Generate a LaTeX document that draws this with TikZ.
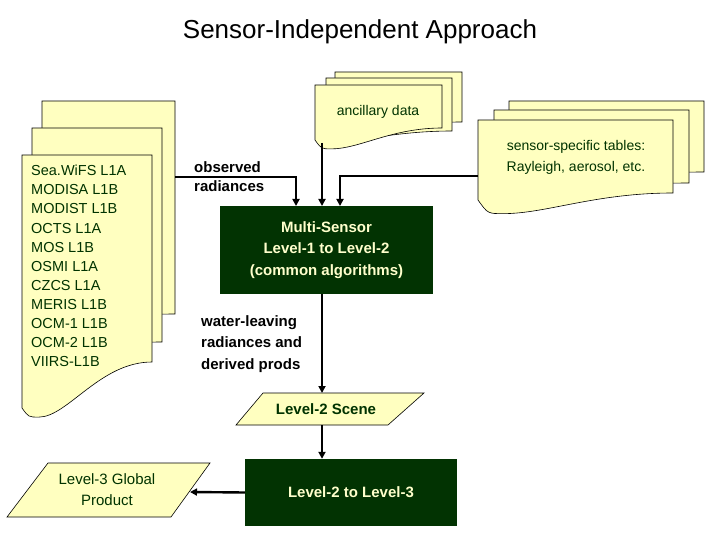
\documentclass[tikz,border=0pt]{standalone}
\usepackage{fontspec}
\setmainfont{Liberation Sans}
\usetikzlibrary{arrows.meta}
\definecolor{paper}{HTML}{FFFFC0}
\definecolor{dk}{HTML}{003300}
\definecolor{boxfill}{HTML}{023302}
\definecolor{boxtxt}{HTML}{FFFFCC}
\newcommand{\docsheet}[6]{% x1 y1 x2 y2(unused) yl yr
  \pgfmathsetmacro{\w}{#3-#1}
  \filldraw[sheet] (#1,#2) -- (#3,#2) -- (#3,#6)
    .. controls ({#1+0.6*\w},#6) and ({#1+0.35*\w},{#5+0.07*\w}) .. ({#1+0.13*\w},{#5+0.07*\w})
    .. controls ({#1+0.05*\w},{#5+0.07*\w}) .. (#1,#5) -- cycle;}
\begin{document}
\begin{tikzpicture}[x=1pt,y=-1pt,
  sheet/.style={fill=paper,draw=black,line width=0.6pt},
  lbl/.style={font=\fontsize{15}{19}\selectfont\bfseries,text=black,align=left,inner sep=0pt},
  dtxt/.style={font=\fontsize{15}{19}\selectfont\bfseries,text=dk,align=center,inner sep=0pt},
  proc/.style={fill=boxfill,draw=none,text=boxtxt,font=\fontsize{15}{21.5}\selectfont\bfseries,align=center},
  io/.style={sheet},
  conn/.style={line width=2.4pt,-{Triangle[width=7pt,length=7pt]}}]
\useasboundingbox (0,0) rectangle (720,540);
\node (title) at (360,32) {\fontsize{26}{30}\selectfont Sensor-Independent Approach};
% left document stack
\docsheet{42}{101}{175}{0}{314}{314}
\docsheet{32}{128}{162}{0}{342}{342}
\docsheet{22}{155}{152}{0}{408}{362}
\node[anchor=north west,align=left,inner sep=0pt,text=dk,font=\fontsize{14.5}{19.1}\selectfont] (list) at (31,165)
 {Sea.WiFS L1A\\MODISA L1B\\MODIST L1B\\OCTS L1A\\MOS L1B\\OSMI L1A\\CZCS L1A\\MERIS L1B\\OCM-1 L1B\\OCM-2 L1B\\VIIRS-L1B};
\coordinate (lsrc) at (175,177);
% ancillary stack
\docsheet{335}{72}{462}{0}{122}{122}
\docsheet{326}{78}{452}{0}{131}{131}
\docsheet{315}{85}{442}{0}{140}{128}
\node[dtxt,font=\fontsize{14}{19}\selectfont] (anc) at (378,112) {ancillary data};
\coordinate (ancb) at (322,143);
% sensor tables stack
\docsheet{509}{101}{704}{0}{172}{172}
\docsheet{494}{110}{689}{0}{183}{183}
\docsheet{478}{120}{673}{0}{200}{193}
\node[dtxt,font=\fontsize{14}{21}\selectfont] (tab) at (576,157) {sensor-specific tables:\\Rayleigh, aerosol, etc.};
\coordinate (tabl) at (478,176);
% process boxes
\node[proc,minimum width=213pt,minimum height=88pt] (ms) at (326.5,250) {Multi-Sensor\\Level-1 to Level-2\\(common algorithms)};
\node[proc,minimum width=212pt,minimum height=67pt] (l23) at (351,492.5) {Level-2 to Level-3};
% io shapes
\filldraw[io] (263,393) -- (424,393) -- (388,425) -- (236,425) -- cycle;
\node[dtxt] (l2s) at (326,409) {Level-2 Scene};
\coordinate (l2st) at (322,393);
\coordinate (l2sb) at (322,425);
\filldraw[io] (48,463) -- (210,463) -- (171,517) -- (7,517) -- cycle;
\node[dtxt,font=\fontsize{15}{21}\selectfont] (l3) at (107,490) {Level-3 Global\\Product};
\coordinate (l3r) at (190,492);
% labels
\node[lbl,anchor=west] (obs) at (194,177) {observed\\radiances};
\node[lbl,anchor=west,font=\fontsize{15}{21.5}\selectfont\bfseries] (wl) at (201,344) {water-leaving\\radiances and\\derived prods};
% connectors
\draw[conn] (lsrc) -- (296,177) -- (296,206);
\draw[conn] (ancb) -- (322,206);
\draw[conn] (tabl) -- (340,176) -- (340,206);
\draw[conn] (ms.south -| l2st) -- (l2st);
\draw[conn] (l2sb) -- (l2sb |- l23.north);
\draw[conn] (l23.west) -- (l3r);
\end{tikzpicture}
\end{document}
